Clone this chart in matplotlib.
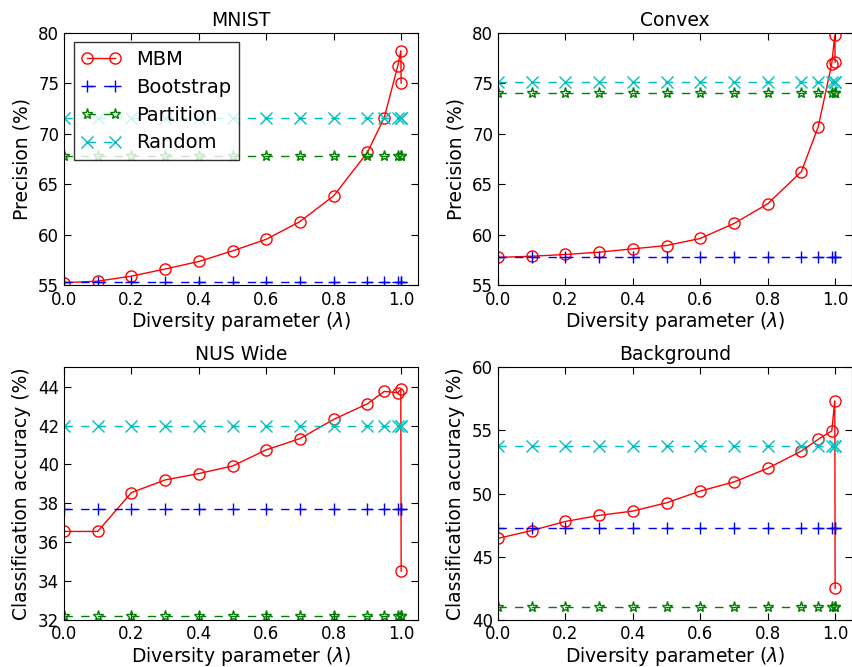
import matplotlib
matplotlib.use("Agg")
import matplotlib.pyplot as plt

lam = [0.0, 0.1, 0.2, 0.3, 0.4, 0.5, 0.6, 0.7, 0.8, 0.9, 0.95, 0.99, 0.999, 1.0]

titles = ["MNIST", "Convex", "NUS Wide", "Background"]
ylabels = ["Precision (%)", "Precision (%)",
           "Classification accuracy (%)", "Classification accuracy (%)"]
ylims = [(55, 80), (55, 80), (32, 45), (40, 60)]
yticks = [range(55, 81, 5), range(55, 81, 5), range(32, 45, 2), range(40, 61, 5)]

mbm_mnist = [55.25, 55.4, 55.9, 56.6, 57.35, 58.4, 59.55, 61.3, 63.85, 68.15, 71.6, 76.7, 78.2, 75.0]
mbm_convex = [57.75, 57.87, 58.04, 58.27, 58.6, 58.93, 59.63, 61.11, 63.06, 66.25, 70.7, 76.95, 79.75, 77.1]
mbm_nus = [36.55, 36.55, 38.55, 39.2, 39.53, 39.92, 40.75, 41.33, 42.32, 43.12, 43.76, 43.69, 43.86, 34.5]
mbm_background = [46.45, 47.07, 47.79, 48.27, 48.61, 49.27, 50.2, 50.92, 52.0, 53.37, 54.3, 54.96, 57.35, 42.48]

bootstrap = [55.35, 57.78, 37.72, 47.29]
partition = [67.75, 74.07, 32.18, 40.98]
random_sel = [71.55, 75.16, 42.0, 53.73]

mbm = [mbm_mnist, mbm_convex, mbm_nus, mbm_background]

plt.rcParams.update({
    "font.size": 12,
    "xtick.direction": "in",
    "ytick.direction": "in",
    "xtick.top": True,
    "ytick.right": True,
    "xtick.major.size": 5,
    "ytick.major.size": 5,
    "xtick.major.pad": 4,
    "legend.fancybox": False,
    "legend.numpoints": 2,
})

fig = plt.figure(figsize=(8.52, 6.67), dpi=100)
W, H = 852, 667
boxes = [(64, 32.7), (498, 32.7), (64, 367.3), (498, 367.3)]
aw, ah = 354, 252.5

for i, (x0, y0) in enumerate(boxes):
    ax = fig.add_axes([x0 / W, 1 - (y0 + ah) / H, aw / W, ah / H])
    n = len(lam)
    ax.plot(lam, mbm[i], "-o", color="red", mfc="none", mec="red", ms=8, lw=1, label="MBM")
    ax.plot(lam, [bootstrap[i]] * n, "--+", color="blue", ms=9, lw=1, dashes=(6, 6), label="Bootstrap")
    ax.plot(lam, [partition[i]] * n, "--*", color="green", mfc="none", ms=8, lw=1, dashes=(6, 6), label="Partition")
    ax.plot(lam, [random_sel[i]] * n, "--x", color="c", ms=9, lw=1, dashes=(6, 6), label="Random")
    ax.set_xlim(0, 1.05)
    ax.set_ylim(*ylims[i])
    ax.set_xticks([0.0, 0.2, 0.4, 0.6, 0.8, 1.0])
    ax.set_yticks(list(yticks[i]))
    ax.set_title(titles[i], fontsize=13.5, pad=5)
    ax.set_xlabel(r"Diversity parameter ($\lambda$)", fontsize=13.5, labelpad=1)
    ax.set_ylabel(ylabels[i], fontsize=13.5, labelpad=5)
    if i == 0:
        leg = ax.legend(loc="upper left", fontsize=14, borderaxespad=0.5,
                        handlelength=2.0, labelspacing=0.45)
        leg.get_frame().set_edgecolor("black")
        leg.get_frame().set_linewidth(1)

fig.savefig("out.png", dpi=100)
